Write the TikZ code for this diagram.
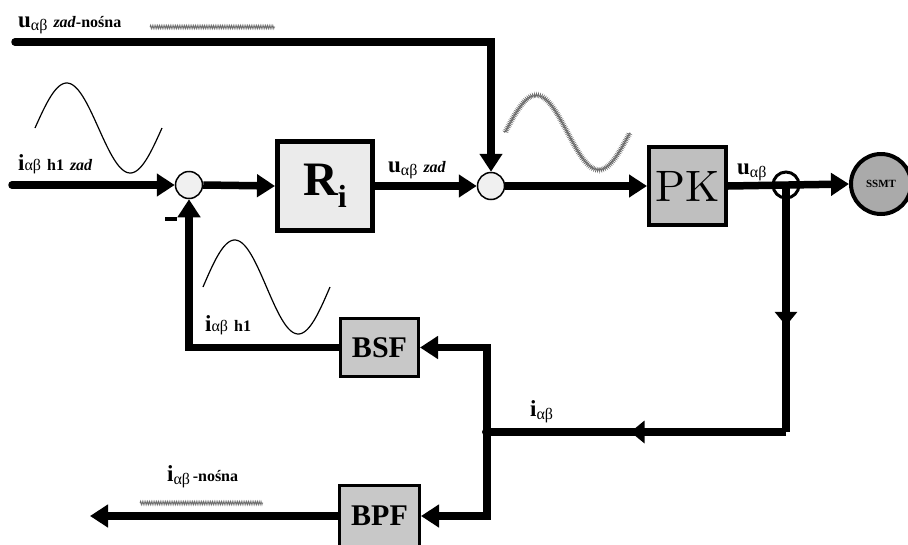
\documentclass[tikz,border=0pt]{standalone}
\usepackage{fontspec}
\setmainfont{Liberation Serif}
\usetikzlibrary{arrows.meta,decorations.pathmorphing,decorations.markings}
\newcommand\mainsym[1]{{\fontsize{23}{23}\selectfont\bfseries #1}}
\newcommand\subsym[1]{{\fontsize{16}{16}\selectfont #1}}
\newcommand\ab{\raisebox{-3pt}{αβ}}
\newcommand\gap{\hspace{6pt}}
\begin{document}
\begin{tikzpicture}[x=1pt,y=-1pt,
  sumc/.style={circle, draw, line width=1.5pt, fill=gray!12, minimum size=27pt, inner sep=0pt},
  blk/.style={draw, rectangle, inner sep=0pt},
  wire/.style={line width=7.5pt},
  tip/.style={-{Triangle[length=18pt,width=22pt]}},
  midtip/.style={postaction={decorate}, decoration={markings, mark=at position #1 with {\arrow{Triangle[length=14pt,width=22pt]}}}},
  noise/.style={gray!85!black, line width=0.7pt, decorate, decoration={zigzag, segment length=1.8pt, amplitude=1.8pt}},
  lab/.style={anchor=base west, inner sep=0pt}]
\useasboundingbox (0,0) rectangle (908,544);

% blocks
\node[sumc] (c1) at (189,185) {};
\node[blk, line width=5pt, fill=gray!16, minimum width=95pt, minimum height=89pt] (Ri) at (325,186)
  {\fontsize{48}{48}\selectfont\bfseries R\raisebox{-12pt}{\fontsize{32}{32}\selectfont i}};
\node[sumc] (c2) at (491,186) {};
\node[blk, line width=4pt, fill=gray!50, minimum width=77pt, minimum height=78pt] (PK) at (687.5,186)
  {\fontspec{lmroman10-regular.otf}\fontsize{44}{44}\selectfont PK};
\node[circle, draw, line width=4pt, fill=gray!67, minimum size=60pt, inner sep=0pt] (SSMT) at (881,184)
  {\fontsize{11}{11}\selectfont\bfseries SSMT};
\node[blk, line width=3pt, fill=gray!43, minimum width=78pt, minimum height=58pt] (BSF) at (379.5,347.5)
  {\fontsize{30}{30}\selectfont\bfseries BSF};
\node[blk, line width=3pt, fill=gray!43, minimum width=80pt, minimum height=62pt] (BPF) at (379.5,516)
  {\fontsize{30}{30}\selectfont\bfseries BPF};
\node[circle, fill=black, minimum size=10pt, inner sep=0pt] (dot) at (487,432) {};
\coordinate (j) at (786,185);
\coordinate (jb) at (786,432);
\coordinate (in) at (12,185);
\coordinate (top) at (15,42);
\coordinate (out) at (90,516);

% wires
\draw[wire, tip, line cap=round] (in) -- (c1.west);
\draw[wire, tip] (c1.east) -- (Ri.west);
\draw[wire, tip] (Ri.east) -- (c2.west);
\draw[wire, tip, line cap=round] (top) -| (c2.north);
\draw[wire, tip] (c2.east) -- (PK.west);
\draw[wire, tip] (PK.east) -- (SSMT.west);
\draw[wire, midtip=0.57] (j) -- (jb);
\draw[wire, midtip=0.52] (jb) -- (dot.center);
\draw[wire, tip] (dot.center) |- (BSF.east);
\draw[wire, tip] (dot.center) |- (BPF.east);
\draw[wire, tip] (BSF.west) -| (c1.south);
\draw[wire, tip] (BPF.west) -- (out);
\node[circle, draw, line width=3pt, minimum size=26pt, inner sep=0pt] (ring) at (j) {};

% minus sign
\draw[line width=4pt] (165,219) -- (177,219);

% sine curves
\draw[line width=1.2pt] plot[domain=0:360, samples=80] ({35+\x/360*127},{128-45*sin(\x)});
\draw[line width=1.2pt] plot[domain=0:360, samples=80] ({203+\x/360*127},{287-47*sin(\x)});
\draw[noise] plot[domain=0:360, samples=80] ({505+\x/360*125},{132.5-37.5*sin(\x)});
\draw[noise] (150,27) -- (275,27);
\draw[noise] (140,503) -- (263,503);

% labels
\node[lab] (l1) at (18,27) {\mainsym{u}\subsym{\ab\gap\textbf{\textit{zad}}\textbf{-nośna}}};
\node[lab] (l2) at (18,170) {\mainsym{i}\subsym{αβ\gap\textbf{h1}\gap\textbf{\textit{zad}}}};
\node[lab] (l3) at (388,172) {\mainsym{u}\subsym{\ab\gap\textbf{\textit{zad}}}};
\node[lab] (l4) at (737,174) {\mainsym{u}\subsym{\ab}};
\node[lab] (l5) at (205,331) {\mainsym{i}\subsym{αβ\gap\textbf{h1}}};
\node[lab] (l6) at (530,416) {\mainsym{i}\subsym{\ab}};
\node[lab] (l7) at (167,481) {\mainsym{i}\subsym{\ab\,\textbf{-nośna}}};
\end{tikzpicture}
\end{document}
